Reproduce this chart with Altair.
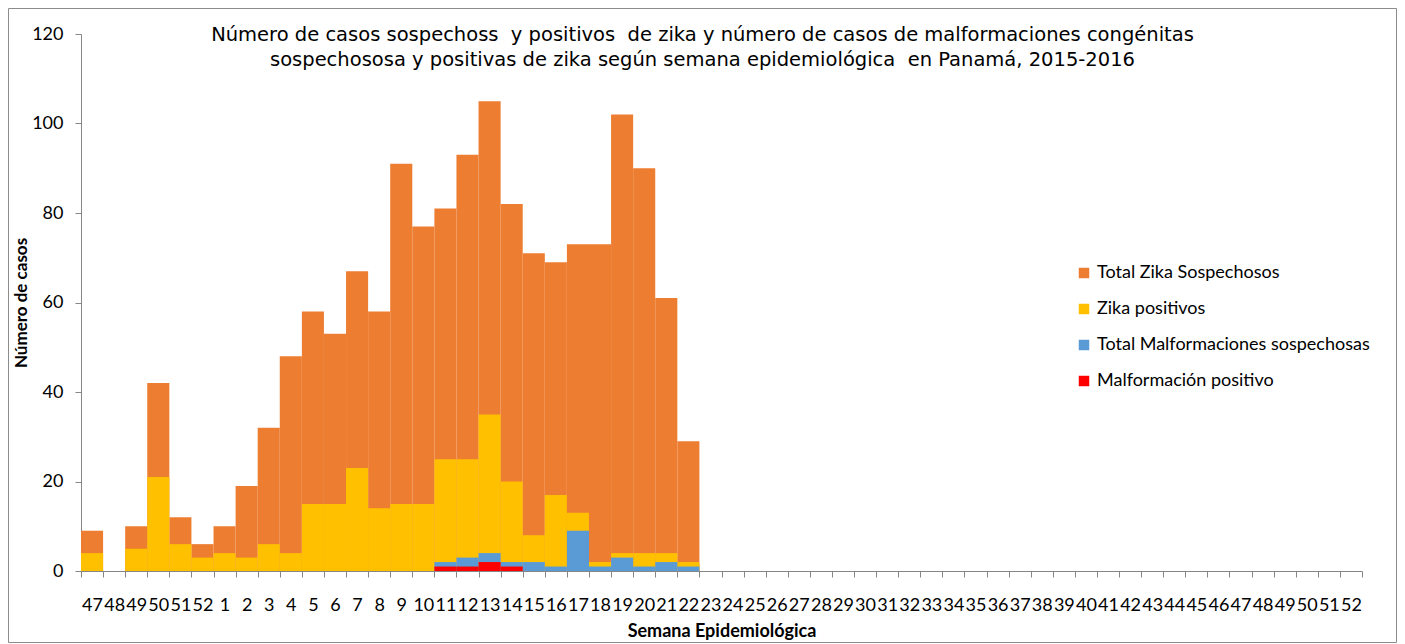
import altair as alt
import pandas as pd

# Categories (epidemiological weeks)
weeks_2015 = [47, 48, 49, 50, 51, 52]
weeks_2016 = list(range(1, 53))

# Series values for weeks 2015-47 .. 2016-22
total_sosp = [9, 0, 10, 42, 12, 6, 10, 19, 32, 48, 58, 53, 67, 58, 91, 77, 81, 93, 105, 82, 71, 69, 73, 73, 102, 90, 61, 29]
zika_pos = [4, 0, 5, 21, 6, 3, 4, 3, 6, 4, 15, 15, 23, 14, 15, 15, 25, 25, 35, 20, 8, 17, 13, 2, 4, 4, 4, 2]
malf_sosp = [0, 0, 0, 0, 0, 0, 0, 0, 0, 0, 0, 0, 0, 0, 0, 0, 2, 3, 4, 2, 2, 1, 9, 1, 3, 1, 2, 1]
malf_pos = [0, 0, 0, 0, 0, 0, 0, 0, 0, 0, 0, 0, 0, 0, 0, 0, 1, 1, 2, 1, 0, 0, 0, 0, 0, 0, 0, 0]

series_names = ["Total Zika Sospechosos", "Zika positivos",
                "Total Malformaciones sospechosas", "Malformación positivo"]
series_colors = ["#ED7D31", "#FFC000", "#5B9BD5", "#FF0000"]

title_lines = [
    "Número de casos sospechoss\u00a0 y positivos\u00a0 de zika y número de casos de malformaciones congénitas",
    "sospechososa y positivas de zika según semana epidemiológica\u00a0 en Panamá, 2015-2016",
]

week_keys = [f"2015-{w}" for w in weeks_2015] + [f"2016-{w}" for w in weeks_2016]
data_keys = week_keys[:len(total_sosp)]

rows = []
for si, (name, vals) in enumerate(zip(series_names, [total_sosp, zika_pos, malf_sosp, malf_pos])):
    for k, v in zip(data_keys, vals):
        if v > 0:
            rows.append({"week": k, "series": name, "value": v, "z": si})
df = pd.DataFrame(rows)

AXIS_GRAY = "#868686"

bars = alt.Chart(df).mark_bar().encode(
    x=alt.X(
        "week:N",
        scale=alt.Scale(domain=week_keys, paddingInner=0, paddingOuter=0),
        axis=alt.Axis(
            title="Semana Epidemiológica",
            labelExpr="split(datum.value, '-')[1]",
            labelAngle=0,
            labelFont="Lato",
            labelFontSize=18,
            labelColor="#000000",
            labelPadding=19,
            labelOverlap=False,
            tickBand="extent",
            tickSize=6,
            tickColor=AXIS_GRAY,
            domainColor=AXIS_GRAY,
            titleFont="Lato",
            titleFontSize=18,
            titleFontWeight="bold",
            titleColor="#000000",
            titlePadding=8,
            grid=False,
        ),
    ),
    y=alt.Y(
        "value:Q",
        stack=None,
        scale=alt.Scale(domain=[0, 120], nice=False),
        axis=alt.Axis(
            title="Número de casos",
            values=[0, 20, 40, 60, 80, 100, 120],
            labelFont="Lato",
            labelFontSize=18,
            labelColor="#000000",
            labelPadding=12,
            tickSize=6,
            tickColor=AXIS_GRAY,
            domainColor=AXIS_GRAY,
            titleFont="Lato",
            titleFontSize=17,
            titleFontWeight="bold",
            titleColor="#000000",
            titlePadding=1,
            grid=False,
        ),
    ),
    color=alt.Color(
        "series:N",
        scale=alt.Scale(domain=series_names, range=series_colors),
        legend=alt.Legend(
            title=None,
            orient="none",
            legendX=994,
            legendY=230,
            symbolType="square",
            symbolSize=110,
            symbolStrokeWidth=0,
            labelFont="Lato",
            labelFontSize=18,
            labelColor="#000000",
            labelOffset=4,
            labelLimit=0,
            rowPadding=18,
            padding=0,
        ),
    ),
    order=alt.Order("z:Q"),
)

frame = alt.Chart(pd.DataFrame({"f": [0]})).mark_rect(
    fillOpacity=0, stroke="#8c8c8c", strokeWidth=1
).encode(
    x=alt.value(-72.5), x2=alt.value(1315.5),
    y=alt.value(-25.5), y2=alt.value(608.5),
)

chart = alt.layer(frame, bars).properties(
    width=1281,
    height=537,
    padding={"left": 73, "top": 26, "right": 35, "bottom": 72},
    autosize=alt.AutoSizeParams(type="none"),
    background="white",
    title=alt.TitleParams(
        text=title_lines,
        font="DejaVu Sans",
        fontSize=19.5,
        fontWeight="normal",
        color="#000000",
        anchor="middle",
        lineHeight=25,
        dx=-19,
        dy=66,
    ),
).configure_view(stroke=None)

chart.save("out.html", embed_options={"renderer": "svg", "actions": False})
